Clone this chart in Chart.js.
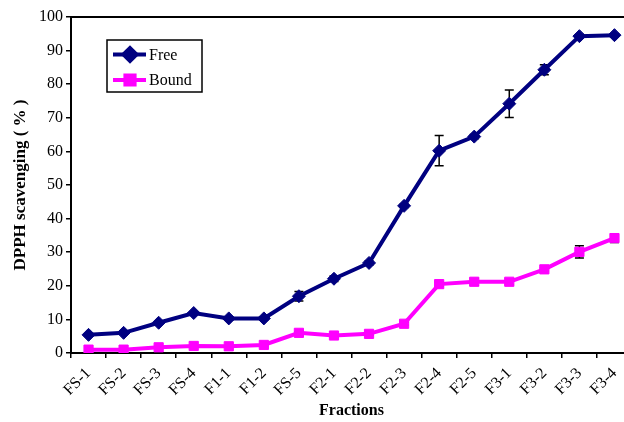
<!DOCTYPE html>
<html>
<head>
<meta charset="utf-8">
<script src="https://cdn.jsdelivr.net/npm/chart.js@4.4.1/dist/chart.umd.min.js"></script>
<style>
  html, body { margin: 0; padding: 0; background: #fff; overflow: hidden; }
  #wrap { width: 624px; height: 422px; overflow: hidden; }
  canvas { display: block; }
</style>
</head>
<body>
<div id="wrap"><canvas id="c" width="640" height="422"></canvas></div>
<script>
// Fractions on the x axis
const categories = ['FS-1','FS-2','FS-3','FS-4','F1-1','F1-2','FS-5','F2-1','F2-2','F2-3','F2-4','F2-5','F3-1','F3-2','F3-3','F3-4'];

// DPPH scavenging (%) of free and bound phenolics, with standard deviations
const freeValues  = [5.4, 6.0, 9.0, 11.9, 10.3, 10.3, 16.9, 22.1, 26.8, 43.8, 60.2, 64.4, 74.2, 84.3, 94.3, 94.6];
const freeErrors  = [0.3, 0.3, 0.4, 0.4, 0.4, 0.4, 1.4, 0.8, 0.6, 0.5, 4.5, 0.6, 4.1, 1.5, 0.5, 0.4];
const boundValues = [1.0, 1.0, 1.7, 2.1, 2.0, 2.4, 6.0, 5.2, 5.7, 8.7, 20.5, 21.2, 21.2, 24.9, 30.1, 34.2];
const boundErrors = [0.2, 0.2, 0.3, 0.3, 0.3, 0.3, 0.4, 0.6, 0.4, 0.4, 0.6, 1.0, 0.9, 0.5, 1.8, 1.3];

const yTicks = [0, 10, 20, 30, 40, 50, 60, 70, 80, 90, 100];

const serif = "'Liberation Serif', 'Times New Roman', serif";

// Vertical error bars with caps, drawn under the markers
const errorBars = {
  id: 'errorBars',
  beforeDatasetsDraw(chart) {
    const ctx = chart.ctx;
    const y = chart.scales.y;
    ctx.save();
    ctx.strokeStyle = '#000';
    ctx.lineWidth = 1.5;
    chart.data.datasets.forEach((ds, di) => {
      const meta = chart.getDatasetMeta(di);
      meta.data.forEach((pt, i) => {
        const err = ds.errors[i];
        if (!err) return;
        const yTop = y.getPixelForValue(ds.data[i] + err);
        const yBot = y.getPixelForValue(ds.data[i] - err);
        const x = pt.x;
        ctx.beginPath();
        ctx.moveTo(x, yTop); ctx.lineTo(x, yBot);
        ctx.moveTo(x - 4.5, yTop); ctx.lineTo(x + 4.5, yTop);
        ctx.moveTo(x - 4.5, yBot); ctx.lineTo(x + 4.5, yBot);
        ctx.stroke();
      });
    });
    ctx.restore();
  }
};

// Frame lines on top and right of the plot area
const frame = {
  id: 'frame',
  afterDraw(chart) {
    const {ctx, chartArea: a} = chart;
    ctx.save();
    ctx.strokeStyle = '#000';
    ctx.lineWidth = 2;
    ctx.beginPath();
    ctx.moveTo(a.left, a.top);
    ctx.lineTo(a.right, a.top);
    ctx.lineTo(a.right, a.bottom);
    ctx.stroke();
    ctx.restore();
  }
};

// Boxed legend inside the plot area
const boxLegend = {
  id: 'boxLegend',
  afterDraw(chart) {
    const ctx = chart.ctx;
    const box = {x: 107, y: 40, w: 95, h: 52};
    ctx.save();
    ctx.fillStyle = '#fff';
    ctx.fillRect(box.x, box.y, box.w, box.h);
    ctx.strokeStyle = '#000';
    ctx.lineWidth = 1.5;
    ctx.strokeRect(box.x, box.y, box.w, box.h);
    ctx.font = '16px ' + serif;
    ctx.textBaseline = 'middle';
    ctx.textAlign = 'left';
    chart.data.datasets.forEach((ds, i) => {
      const yy = box.y + 14.5 + i * 25.5;
      ctx.strokeStyle = ds.borderColor;
      ctx.lineWidth = ds.borderWidth;
      ctx.beginPath();
      ctx.moveTo(box.x + 6, yy);
      ctx.lineTo(box.x + 39, yy);
      ctx.stroke();
      ctx.fillStyle = ds.borderColor;
      ctx.strokeStyle = ds.borderColor;
      Chart.helpers.drawPoint(ctx, {pointStyle: ds.pointStyle, radius: ds.pointRadius, rotation: 0, borderWidth: 1}, box.x + 23, yy);
      ctx.fillStyle = '#000';
      ctx.fillText(ds.label, box.x + 42, yy + 1);
    });
    ctx.restore();
  }
};

new Chart(document.getElementById('c'), {
  type: 'line',
  data: {
    labels: categories,
    datasets: [
      {
        label: 'Free',
        data: freeValues,
        errors: freeErrors,
        borderColor: '#000080',
        backgroundColor: '#000080',
        pointBackgroundColor: '#000080',
        pointBorderColor: '#000080',
        borderWidth: 4,
        pointStyle: 'rectRot',
        pointRadius: 6.5,
        pointBorderWidth: 1,
        tension: 0
      },
      {
        label: 'Bound',
        data: boundValues,
        errors: boundErrors,
        borderColor: '#ff00ff',
        backgroundColor: '#ff00ff',
        pointBackgroundColor: '#ff00ff',
        pointBorderColor: '#ff00ff',
        borderWidth: 4,
        pointStyle: 'rect',
        pointRadius: 6.5,
        pointBorderWidth: 1,
        tension: 0
      }
    ]
  },
  options: {
    responsive: false,
    animation: false,
    devicePixelRatio: 1,
    layout: { padding: { top: 17, right: 8, left: 0, bottom: 0 } },
    plugins: { legend: { display: false }, tooltip: { enabled: false } },
    scales: {
      x: {
        offset: true,
        afterFit(scale) { scale.height = 69; },
        grid: { display: true, offset: true, drawOnChartArea: false, drawTicks: true, tickLength: 5, color: '#000', lineWidth: 1.5 },
        border: { display: true, color: '#000', width: 2 },
        ticks: { color: '#000', font: { family: serif, size: 16 }, minRotation: 45, maxRotation: 45, padding: 6, autoSkip: false },
        title: { display: true, text: 'Fractions', color: '#000', font: { family: serif, size: 16, weight: 'bold' }, padding: { top: 0, bottom: 2 } }
      },
      y: {
        min: 0, max: 100,
        afterFit(scale) { scale.width = 71; },
        afterBuildTicks(scale) { scale.ticks = yTicks.map(v => ({ value: v })); },
        grid: { display: true, drawOnChartArea: false, drawTicks: true, tickLength: 5, color: '#000', lineWidth: 1.5 },
        border: { display: true, color: '#000', width: 2 },
        ticks: { color: '#000', font: { family: serif, size: 16 }, padding: 3 },
        title: { display: true, text: 'DPPH scavenging ( % )', color: '#000', font: { family: serif, size: 17, weight: 'bold' }, padding: { top: 10, bottom: 0 } }
      }
    }
  },
  plugins: [errorBars, frame, boxLegend]
});
</script>
</body>
</html>
